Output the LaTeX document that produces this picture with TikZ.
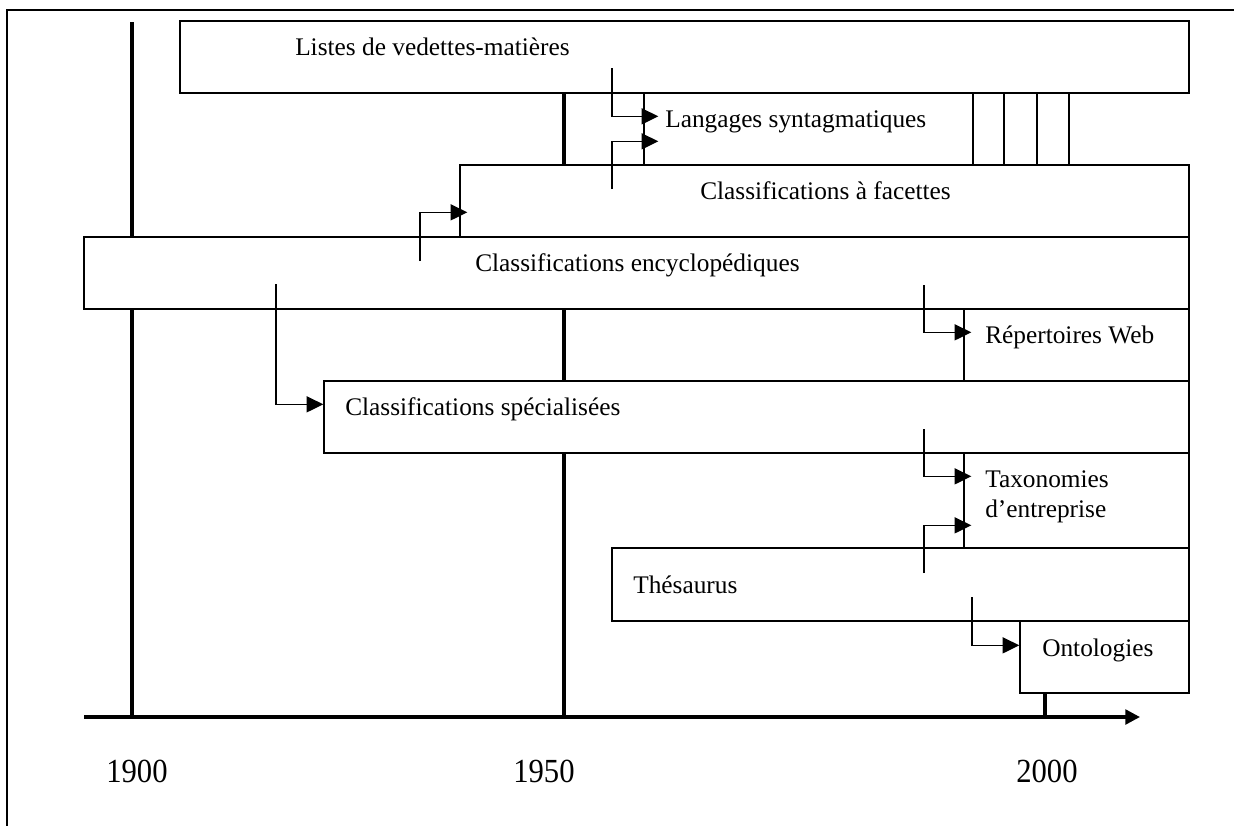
\documentclass[tikz,border=0pt]{standalone}
\usepackage{fontspec}
\setmainfont{Liberation Serif}
\usetikzlibrary{arrows.meta,fit,calc}
\begin{document}
\begin{tikzpicture}[x=0.75pt,y=-0.75pt,
  box/.style={draw, fill=white, line width=1pt, inner sep=0pt},
  lbl/.style={anchor=base west, inner sep=0pt, font=\fontsize{19}{22.5}\selectfont, align=left},
  year/.style={anchor=base west, inner sep=0pt, font=\fontsize{23}{27}\selectfont},
  era/.style={line width=2.5pt},
  link/.style={line width=1pt, -{Triangle[length=12.5pt,width=12pt]}},
]
\useasboundingbox (0,0) rectangle (1234,825);
\fill[white] (0,0) rectangle (1234,825);
% page frame
\draw[line width=1.6pt] (7,830) -- (7,10) -- (1240,10);

% reference years
\draw[era] (132,22) -- (132,717);
\draw[era] (564,93) -- (564,717);
\draw[era] (1045,693) -- (1045,717);

% families of systems
\node[box, fit={(180,21) (1189,93)}] (listes) {};
\node[box, fit={(644,93) (1069,165)}] (lang) {};
\draw[line width=1pt] (973,93) -- (973,165) (1004,93) -- (1004,165) (1037,93) -- (1037,165);
\node[box, fit={(460,165) (1189,237)}] (facettes) {};
\node[box, fit={(84,237) (1189,309)}] (ency) {};
\node[box, fit={(964,309) (1189,381)}] (rep) {};
\node[box, fit={(324,381) (1189,453)}] (spec) {};
\node[box, fit={(964,453) (1189,548)}] (tax) {};
\node[box, fit={(612,548) (1189,621)}] (thes) {};
\node[box, fit={(1020,621) (1189,693)}] (onto) {};

% labels
\node[lbl] (t-listes) at (295,55) {Listes de vedettes-matières};
\node[lbl] (t-lang) at (665,127) {Langages syntagmatiques};
\node[lbl] (t-facettes) at (700,199) {Classifications à facettes};
\node[lbl] (t-ency) at (475,271) {Classifications encyclopédiques};
\node[lbl] (t-rep) at (985,343) {Répertoires Web};
\node[lbl] (t-spec) at (345,415) {Classifications spécialisées};
\node[lbl] (t-tax) at (985,517) {Taxonomies\\d’entreprise};
\node[lbl] (t-thes) at (633,593) {Thésaurus};
\node[lbl] (t-onto) at (1042,656) {Ontologies};

% derivations
\coordinate (s1) at (612,68);
\coordinate (s2) at (612,189);
\coordinate (s3) at (420,261);
\coordinate (s4) at (924,285);
\coordinate (s5) at (276,284);
\coordinate (s6) at (924,429);
\coordinate (s7) at (924,573);
\coordinate (s8) at (972,597);
\draw[link] (s1) |- ($(lang.north west)+(15,24)$);
\draw[link] (s2) |- ($(lang.north west)+(15,49)$);
\draw[link] (s3) |- ($(facettes.north west)+(8,48)$);
\draw[link] (s4) |- ($(rep.north west)+(8,24)$);
\draw[link] (s5) |- ($(spec.north west)+(0,24)$);
\draw[link] (s6) |- ($(tax.north west)+(8,24)$);
\draw[link] (s7) |- ($(tax.north west)+(8,73)$);
\draw[link] (s8) |- ($(onto.north west)+(0,25)$);

% time axis
\draw[era, -{Triangle[length=11pt,width=11pt]}] (84,717) -- (1140,717);
\node[year] (y1900) at (106,782) {\scalebox{1}[1.1]{1900}};
\node[year] (y1950) at (513,782) {\scalebox{1}[1.1]{1950}};
\node[year] (y2000) at (1016,782) {\scalebox{1}[1.1]{2000}};
\end{tikzpicture}
\end{document}
